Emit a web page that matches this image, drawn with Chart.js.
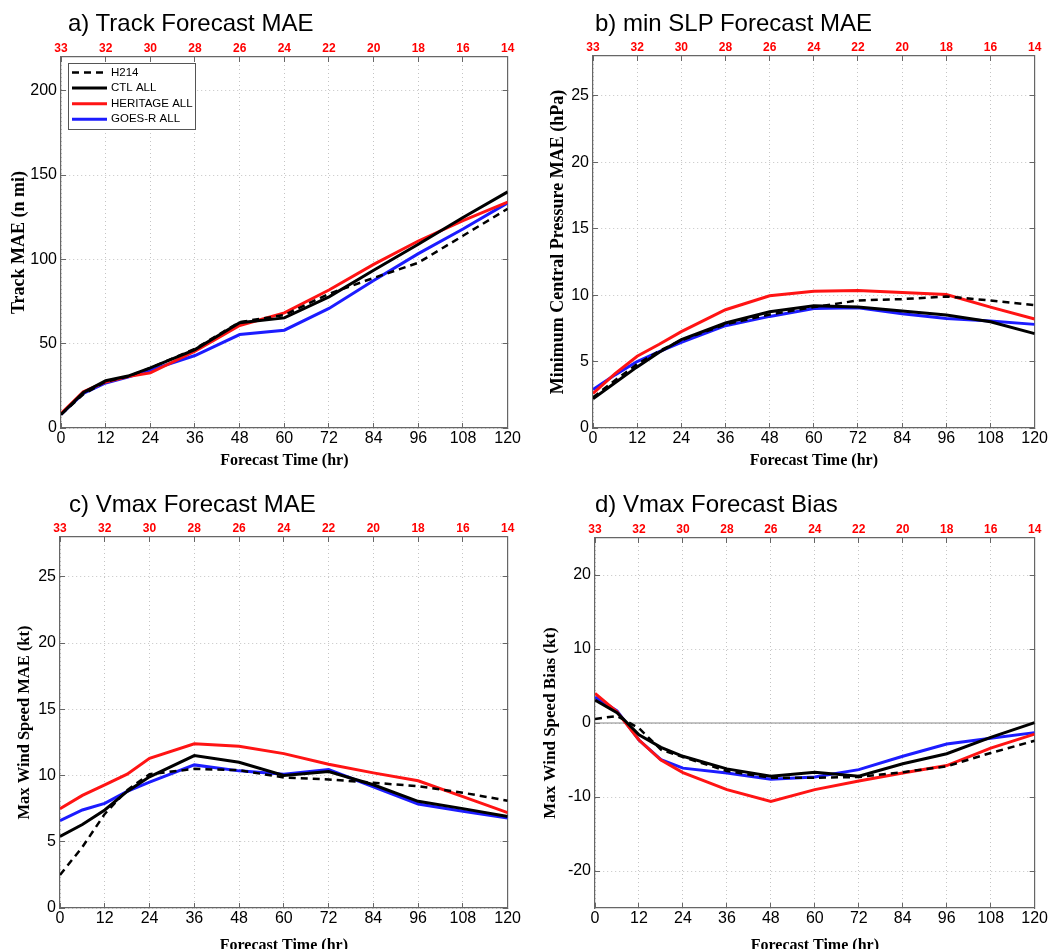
<!DOCTYPE html>
<html>
<head>
<meta charset="utf-8">
<script src="https://cdn.jsdelivr.net/npm/chart.js@4.4.0/dist/chart.umd.min.js"></script>
<style>
  html, body { margin: 0; padding: 0; background: #fff; overflow: hidden; }
  #wrap { position: relative; width: 1054px; height: 949px; overflow: hidden; }
  canvas { position: absolute; }
  .ttl { position: absolute; font: 24px "Liberation Sans", Arial, sans-serif; line-height: 24px; color: #000; white-space: nowrap; }
</style>
</head>
<body>
<div id="wrap">
  <canvas id="cA" width="527" height="474" style="left:0;top:0"></canvas>
  <canvas id="cB" width="527" height="474" style="left:527px;top:0"></canvas>
  <canvas id="cC" width="527" height="485" style="left:0;top:474px"></canvas>
  <canvas id="cD" width="527" height="485" style="left:527px;top:474px"></canvas>
  <div class="ttl" style="left:68px;top:11px">a) Track Forecast MAE</div>
  <div class="ttl" style="left:595px;top:11px">b) min SLP Forecast MAE</div>
  <div class="ttl" style="left:69px;top:492px">c) Vmax Forecast MAE</div>
  <div class="ttl" style="left:595px;top:492px">d) Vmax Forecast Bias</div>
</div>
<script>
'use strict';

// Forecast hours and the red sample counts shown on the top axis
const hours = [0, 6, 12, 18, 24, 36, 48, 60, 72, 84, 96, 108, 120];
const xTickHours = [0, 12, 24, 36, 48, 60, 72, 84, 96, 108, 120];
const topCounts = ['33', '32', '30', '28', '26', '24', '22', '20', '18', '16', '14'];

const labels = ['H214', 'CTL ALL', 'HERITAGE ALL', 'GOES-R ALL'];

// a) Track MAE (n mi)
const h214A     = [8, 20, 27.5, 30.5, 35.6, 47, 62.8, 67, 79.6, 89, 98, 114, 130];
const ctlA      = [8, 21, 28, 30.8, 35.6, 46.5, 62.4, 65.3, 77.8, 93.5, 109, 124.8, 140];
const heritageA = [8.5, 21.5, 27.3, 30.5, 32.7, 45.5, 60.8, 68.3, 81.8, 97, 110.9, 123, 134];
const goesA     = [8, 20.5, 26.7, 30.2, 34.3, 43, 55.4, 58, 70.9, 87.5, 103.4, 118, 133.5];
const yTicksA = [0, 50, 100, 150, 200];

// b) min SLP MAE (hPa)
const h214B     = [2.3, 3.6, 4.8, 5.8, 6.6, 7.8, 8.55, 9.1, 9.6, 9.7, 9.9, 9.6, 9.25];
const ctlB      = [2.2, 3.4, 4.6, 5.7, 6.65, 7.9, 8.75, 9.2, 9.1, 8.8, 8.5, 8.0, 7.1];
const heritageB = [2.6, 4.1, 5.4, 6.3, 7.25, 8.9, 9.95, 10.3, 10.35, 10.2, 10.05, 9.1, 8.2];
const goesB     = [2.9, 4.0, 5.0, 5.75, 6.45, 7.7, 8.4, 9.0, 9.05, 8.6, 8.25, 8.05, 7.8];
const yTicksB = [0, 5, 10, 15, 20, 25];

// c) Vmax MAE (kt)
const h214C     = [2.5, 4.6, 7.1, 8.9, 10.1, 10.5, 10.4, 9.85, 9.7, 9.45, 9.2, 8.7, 8.1];
const ctlC      = [5.4, 6.3, 7.4, 8.8, 9.9, 11.5, 11.0, 10.0, 10.3, 9.3, 8.05, 7.5, 6.9];
const heritageC = [7.5, 8.5, 9.3, 10.1, 11.3, 12.4, 12.2, 11.65, 10.85, 10.2, 9.6, 8.4, 7.2];
const goesC     = [6.6, 7.4, 7.9, 8.8, 9.5, 10.8, 10.35, 10.1, 10.45, 9.15, 7.85, 7.3, 6.8];
const yTicksC = [0, 5, 10, 15, 20, 25];

// d) Vmax bias (kt)
const h214D     = [0.55, 0.95, -0.7, -3.6, -4.6, -6.5, -7.4, -7.4, -7.3, -6.65, -5.85, -4.05, -2.4];
const ctlD      = [3.1, 1.4, -1.6, -3.3, -4.5, -6.2, -7.2, -6.65, -7.2, -5.5, -4.15, -1.95, 0.05];
const heritageD = [4.0, 1.5, -2.3, -5.0, -6.7, -9.0, -10.6, -9.0, -7.85, -6.75, -5.75, -3.4, -1.5];
const goesD     = [3.5, 1.65, -2.3, -4.95, -6.1, -6.75, -7.6, -7.3, -6.3, -4.5, -2.85, -2.05, -1.3];
const yTicksD = [-20, -10, 0, 10, 20];
const zeroLineX = [0, 120];
const zeroLineY = [0, 0];

const colors = ['#000000', '#000000', '#ff1414', '#1c1cff'];

function series(xs, ys) {
  return xs.map((x, i) => ({x: x, y: ys[i]}));
}

function tickSetter(values) {
  return function(scale) { scale.ticks = values.map(v => ({value: v})); };
}

// Legend drawn as a framed box in the top-left of the plot
const boxLegend = {
  id: 'boxLegend',
  afterDraw(chart, args, opts) {
    if (!opts.show) return;
    const ctx = chart.ctx, area = chart.chartArea;
    const x = area.left + 7, y = area.top + 6, w = 127, h = 66;
    ctx.save();
    ctx.fillStyle = '#fff';
    ctx.fillRect(x, y, w, h);
    ctx.strokeStyle = '#555';
    ctx.lineWidth = 1;
    ctx.strokeRect(x + 0.5, y + 0.5, w, h);
    chart.data.datasets.slice(0, 4).forEach((ds, i) => {
      const ly = y + 9.5 + i * 15.6;
      ctx.strokeStyle = ds.borderColor;
      ctx.lineWidth = ds.borderWidth;
      ctx.setLineDash(ds.borderDash || []);
      ctx.beginPath();
      ctx.moveTo(x + 4, ly);
      ctx.lineTo(x + 39, ly);
      ctx.stroke();
      ctx.setLineDash([]);
      ctx.fillStyle = '#000';
      ctx.font = '11.5px "Liberation Sans", Arial, sans-serif';
      ctx.textBaseline = 'middle';
      ctx.fillText(ds.label, x + 43, ly);
    });
    ctx.restore();
  }
};

function makePanel(id, geo, yMin, yMax, yTicks, yTitle, values, extra) {
  const datasets = values.map((v, i) => ({
    label: labels[i],
    data: series(hours, v),
    borderColor: colors[i],
    borderWidth: i === 0 ? 2.5 : 3,
    borderDash: i === 0 ? [7, 5] : [],
    pointRadius: 0,
    tension: 0,
    fill: false
  }));
  if (extra) datasets.push(extra);

  const tickFont = {family: '"Liberation Sans", Arial, sans-serif', size: 16};
  const titleFont = {family: '"Liberation Serif", "Times New Roman", serif', size: 16, weight: 'bold'};
  const yTitleFont = {family: '"Liberation Serif", "Times New Roman", serif', size: geo.yTitleSize, weight: 'bold'};
  const half = geo.yTitleSize * 0.6;

  new Chart(document.getElementById(id), {
    type: 'line',
    data: {datasets: datasets},
    plugins: [boxLegend],
    options: {
      responsive: false,
      animation: false,
      layout: {padding: {left: 0, top: 0, bottom: 0, right: geo.W - geo.R}},
      plugins: {
        legend: {display: false},
        tooltip: {enabled: false},
        boxLegend: {show: !!geo.legend}
      },
      scales: {
        x: {
          type: 'linear', position: 'bottom', min: 0, max: 120,
          afterBuildTicks: tickSetter(xTickHours),
          afterFit: s => { s.height = geo.H - geo.B; },
          ticks: {autoSkip: false, maxRotation: 0, padding: 6, color: '#000', font: tickFont},
          grid: {color: '#c4c4c4', tickLength: -5, tickColor: '#666', tickBorderDash: [], tickWidth: 1},
          border: {color: '#666', width: 1.2, dash: [1, 3]},
          title: {display: true, text: 'Forecast Time (hr)', color: '#000', font: titleFont, padding: {top: 0, bottom: 4}}
        },
        xTop: {
          type: 'linear', position: 'top', min: 0, max: 120,
          afterBuildTicks: tickSetter(xTickHours),
          afterFit: s => { s.height = geo.T; },
          ticks: {
            autoSkip: false, maxRotation: 0, padding: 6, color: '#ff0000',
            font: {family: '"Liberation Sans", Arial, sans-serif', size: 12, weight: 'bold'},
            callback: (v, i) => topCounts[i]
          },
          grid: {drawOnChartArea: false, tickLength: -5, tickColor: '#666', tickWidth: 1},
          border: {color: '#666', width: 1.2}
        },
        y: {
          type: 'linear', position: 'left', min: yMin, max: yMax,
          afterBuildTicks: tickSetter(yTicks),
          afterFit: s => { s.width = geo.L; },
          ticks: {padding: 9, color: '#000', font: tickFont},
          grid: {color: '#c4c4c4', tickLength: -5, tickColor: '#666', tickBorderDash: [], tickWidth: 1},
          border: {color: '#666', width: 1.2, dash: [1, 3]},
          title: {display: true, text: yTitle, color: '#000', font: yTitleFont, padding: {top: geo.yTitleX - half, bottom: 0}}
        },
        yRight: {
          type: 'linear', position: 'right', min: yMin, max: yMax,
          afterBuildTicks: tickSetter(yTicks),
          afterFit: s => { s.width = 0; },
          ticks: {display: false},
          grid: {drawOnChartArea: false, tickLength: -5, tickColor: '#666', tickWidth: 1},
          border: {color: '#666', width: 1.2}
        }
      }
    }
  });
}

makePanel('cA', {W: 527, H: 474, L: 61, T: 57, R: 516, B: 428, yTitleX: 19, yTitleSize: 18, legend: true},
  0, 220, yTicksA, 'Track MAE (n mi)', [h214A, ctlA, heritageA, goesA]);

makePanel('cB', {W: 527, H: 474, L: 66, T: 56, R: 513, B: 428, yTitleX: 31, yTitleSize: 18},
  0, 28, yTicksB, 'Minimum Central Pressure MAE (hPa)', [h214B, ctlB, heritageB, goesB]);

makePanel('cC', {W: 527, H: 485, L: 60, T: 63, R: 516, B: 434, yTitleX: 25, yTitleSize: 16.5},
  0, 28, yTicksC, 'Max Wind Speed MAE (kt)', [h214C, ctlC, heritageC, goesC]);

makePanel('cD', {W: 527, H: 485, L: 68, T: 64, R: 514, B: 434, yTitleX: 24, yTitleSize: 17},
  -25, 25, yTicksD, 'Max Wind Speed Bias (kt)', [h214D, ctlD, heritageD, goesD],
  {label: 'zero', data: series(zeroLineX, zeroLineY), borderColor: '#888', borderWidth: 1,
   pointRadius: 0, tension: 0, fill: false, order: 10});
</script>
</body>
</html>
